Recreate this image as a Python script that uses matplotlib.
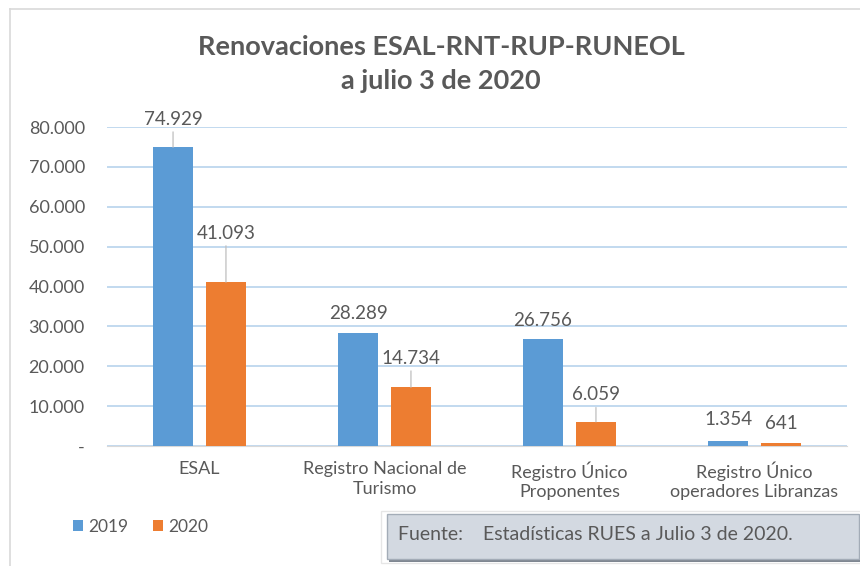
import numpy as np
import matplotlib.pyplot as plt
from matplotlib.patches import Rectangle
from matplotlib.lines import Line2D

plt.rcParams['font.family'] = ['Lato', 'DejaVu Sans']

# data
categories = ['ESAL', 'Registro Nacional de\nTurismo', 'Registro Único\nProponentes',
              'Registro Único\noperadores Libranzas']
years = ['2019', '2020']
v2019 = [74929, 28289, 26756, 1354]
v2020 = [41093, 14734, 6059, 641]
yticks = [0, 10000, 20000, 30000, 40000, 50000, 60000, 70000, 80000]
ytick_labels = ['-', '10.000', '20.000', '30.000', '40.000', '50.000', '60.000', '70.000', '80.000']

# label offsets above bar tops (pixels)
off2019 = [28, 20, 19, 21]
off2020 = [49, 29, 27, 20]

blue = '#5b9bd5'
orange = '#ed7d31'
grey = '#595959'

fig = plt.figure(figsize=(8.6, 5.66), dpi=100)
ax = fig.add_axes([107 / 860, 1 - 446 / 566, 740 / 860, 319 / 566])

x = np.arange(len(categories))
w = 0.22
d = 0.143
b1 = ax.bar(x - d, v2019, w, color=blue, label=years[0], zorder=3)
b2 = ax.bar(x + d, v2020, w, color=orange, label=years[1], zorder=3)


def fmt(v):
    return f'{v:,}'.replace(',', '.')


for bars, vals, offs in [(b1, v2019, off2019), (b2, v2020, off2020)]:
    for bar, v, o in zip(bars, vals, offs):
        xc = bar.get_x() + bar.get_width() / 2
        props = None
        if o > 24:
            props = dict(arrowstyle='-', color='#bfbfbf', lw=0.9, shrinkA=1, shrinkB=0)
        ax.annotate(fmt(v), (xc, v), xytext=(0, o), textcoords='offset pixels',
                    ha='center', va='center', fontsize=13.5, color=grey,
                    arrowprops=props, zorder=4)

ax.set_xlim(-0.5, 3.5)
ax.set_ylim(0, 80000)
ax.set_yticks(yticks)
ax.set_yticklabels(ytick_labels)
ax.set_xticks(x)
ax.set_xticklabels(categories, linespacing=1.25)
ax.tick_params(axis='y', length=0, pad=16, labelsize=13, labelcolor=grey)
ax.tick_params(axis='x', length=0, pad=11, labelsize=13, labelcolor=grey)
ax.yaxis.grid(True, color='#bdd7ee', lw=1.3, zorder=0)
for s in ['top', 'right', 'left']:
    ax.spines[s].set_visible(False)
ax.spines['bottom'].set_color('#d9d9d9')
ax.spines['bottom'].set_zorder(2)

fig.text(441 / 860, 1 - 47 / 566, 'Renovaciones ESAL-RNT-RUP-RUNEOL', ha='center', va='center',
         fontsize=19.5, fontweight='bold', color=grey)
fig.text(441 / 860, 1 - 81 / 566, 'a julio 3 de 2020', ha='center', va='center',
         fontsize=19.5, fontweight='bold', color=grey)

fig.legend(handles=[b1, b2], loc='center left', bbox_to_anchor=(57 / 860, 1 - 527 / 566),
           ncol=2, frameon=False, fontsize=12.5, labelcolor=grey, handlelength=0.6,
           handleheight=0.6, handletextpad=0.3, columnspacing=1.4)

# chart border
fig.add_artist(Line2D([10 / 860, 1], [1 - 9 / 566] * 2, color='#d9d9d9', lw=1.2))
fig.add_artist(Line2D([10 / 860] * 2, [0, 1 - 9 / 566], color='#d9d9d9', lw=1.2))

# source box
fig.add_artist(Rectangle((381 / 860, 1 - 563 / 566), 480 / 860, 52 / 566,
                         facecolor='white', edgecolor='#e6e6e6', lw=1))
fig.add_artist(Rectangle((389 / 860, 1 - 562 / 566), 472 / 860, 46 / 566,
                         facecolor='#7f8791', edgecolor='none'))
fig.add_artist(Rectangle((387 / 860, 1 - 559 / 566), 472 / 860, 45 / 566,
                         facecolor='#d3d9e1', edgecolor='#a3acb7', lw=1))
fig.text(398 / 860, 1 - 535 / 566, 'Fuente:    Estadísticas RUES a Julio 3 de 2020.',
         ha='left', va='center', fontsize=14, color=grey)

fig.savefig('out.png', dpi=100)
